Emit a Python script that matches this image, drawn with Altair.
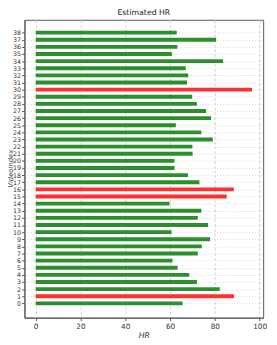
import altair as alt
import pandas as pd

video_index = list(range(39))
hr_values = [65.6, 88.6, 82.2, 72.0, 68.6, 63.4, 61.1, 72.4, 74.2, 77.9,
             60.7, 77.0, 72.4, 74.0, 59.8, 85.3, 88.5, 73.1, 68.0, 62.0,
             62.0, 70.1, 70.0, 79.1, 74.0, 62.6, 78.3, 76.1, 72.0, 69.9,
             96.6, 67.6, 68.1, 67.0, 83.7, 60.8, 63.3, 80.6, 63.0]
status = ["normal"] * 39
for i in [1, 15, 16, 30]:
    status[i] = "outlier"

x_ticks = [0, 20, 40, 60, 80, 100]

df = pd.DataFrame({"VideoIndex": video_index, "HR": hr_values, "status": status})

font = "DejaVu Sans"

chart = alt.Chart(df).transform_calculate(
    y_lo="datum.VideoIndex - 0.27",
    y_hi="datum.VideoIndex + 0.27",
    zero="0",
).mark_rect().encode(
    x=alt.X("zero:Q", scale=alt.Scale(domain=[-5.0, 101.6], nice=False, zero=False),
            axis=alt.Axis(values=x_ticks, title="HR", grid=True, gridDash=[3, 2],
                          gridColor="#d0d0d0", labelFontSize=7.5, titleFontSize=8,
                          titleFontStyle="italic", titleFontWeight="normal",
                          tickSize=3, labelPadding=2, titlePadding=2,
                          domainColor="#555", tickColor="#555", labelColor="#333",
                          titleColor="#333", labelFont=font, titleFont=font)),
    x2=alt.X2("HR:Q"),
    y=alt.Y("y_lo:Q", scale=alt.Scale(domain=[-2.0, 39.8], nice=False, zero=False),
            axis=alt.Axis(values=video_index, title="VideoIndex", grid=True,
                          gridDash=[1, 2], gridColor="#d8d8d8", labelFontSize=6.5,
                          labelOverlap=False, titleFontSize=7, titleFontStyle="italic",
                          titleFontWeight="normal", tickSize=3, labelPadding=1,
                          titleAngle=270, titleX=-11.5, titleY=153, titleBaseline="bottom",
                          titleAlign="center",
                          domainColor="#555", tickColor="#555", labelColor="#333",
                          titleColor="#333", labelFont=font, titleFont=font)),
    y2=alt.Y2("y_hi:Q"),
    color=alt.Color("status:N", scale=alt.Scale(domain=["normal", "outlier"],
                                                range=["#2b902b", "#ff3030"]),
                    legend=None),
).properties(
    width=246,
    height=307,
    title=alt.TitleParams("Estimated HR", fontSize=8, font=font, fontWeight="normal",
                          color="#222", offset=3),
    autosize=alt.AutoSizeParams(type="none"),
    padding={"left": 17, "top": 7, "right": 6, "bottom": 22},
).configure_view(stroke="#555", strokeWidth=1)

chart.save("out.html", embed_options={"renderer": "svg", "actions": False})
